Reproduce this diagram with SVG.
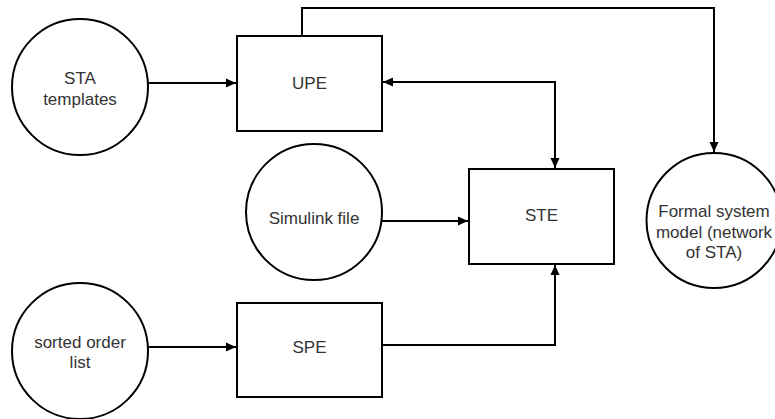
<svg xmlns="http://www.w3.org/2000/svg" width="775" height="419" viewBox="0 0 775 419">
<style>
.shape{fill:#fff;stroke:#000;stroke-width:2}
.lbl{font-family:"Liberation Sans",Arial,sans-serif;font-size:17px;fill:#333;text-anchor:middle}
.conn{fill:none;stroke:#000;stroke-width:2}
</style>
<defs>
<marker id="arr" markerUnits="userSpaceOnUse" markerWidth="10" markerHeight="10" refX="10" refY="5" orient="auto-start-reverse" viewBox="0 0 10 10">
<path d="M0,0.5 L10,5 L0,9.5 z" fill="#000"/>
</marker>
</defs>
<rect width="775" height="419" fill="#fff"/>
<g id="connectors">
<path class="conn" d="M148,83 L236,83" marker-end="url(#arr)"/>
<path class="conn" d="M302,36 L302,8 L714,8 L714,152" marker-end="url(#arr)"/>
<path class="conn" d="M383,82 L555,82 L555,168" marker-start="url(#arr)" marker-end="url(#arr)"/>
<path class="conn" d="M382,221 L468,221" marker-end="url(#arr)"/>
<path class="conn" d="M148,347 L236,347" marker-end="url(#arr)"/>
<path class="conn" d="M382,345 L555,345 L555,265" marker-end="url(#arr)"/>
</g>
<g id="sta-templates">
<circle class="shape" cx="80" cy="87" r="68"/>
<text class="lbl" x="80" y="84">STA</text>
<text class="lbl" x="80" y="105">templates</text>
</g>
<g id="upe">
<rect class="shape" x="237" y="36" width="145" height="95"/>
<text class="lbl" x="309.5" y="89">UPE</text>
</g>
<g id="simulink-file">
<circle class="shape" cx="314" cy="212" r="68"/>
<text class="lbl" x="314" y="224">Simulink file</text>
</g>
<g id="ste">
<rect class="shape" x="469" y="169" width="145" height="95"/>
<text class="lbl" x="541.5" y="221">STE</text>
</g>
<g id="formal-system-model">
<circle class="shape" cx="714" cy="220.5" r="67.5"/>
<text class="lbl" x="714" y="217">Formal system</text>
<text class="lbl" x="714" y="238">model (network</text>
<text class="lbl" x="714" y="258">of STA)</text>
</g>
<g id="sorted-order-list">
<circle class="shape" cx="80" cy="351" r="68"/>
<text class="lbl" x="80" y="348">sorted order</text>
<text class="lbl" x="80" y="368">list</text>
</g>
<g id="spe">
<rect class="shape" x="237" y="303" width="145" height="94"/>
<text class="lbl" x="309.5" y="353">SPE</text>
</g>
</svg>
